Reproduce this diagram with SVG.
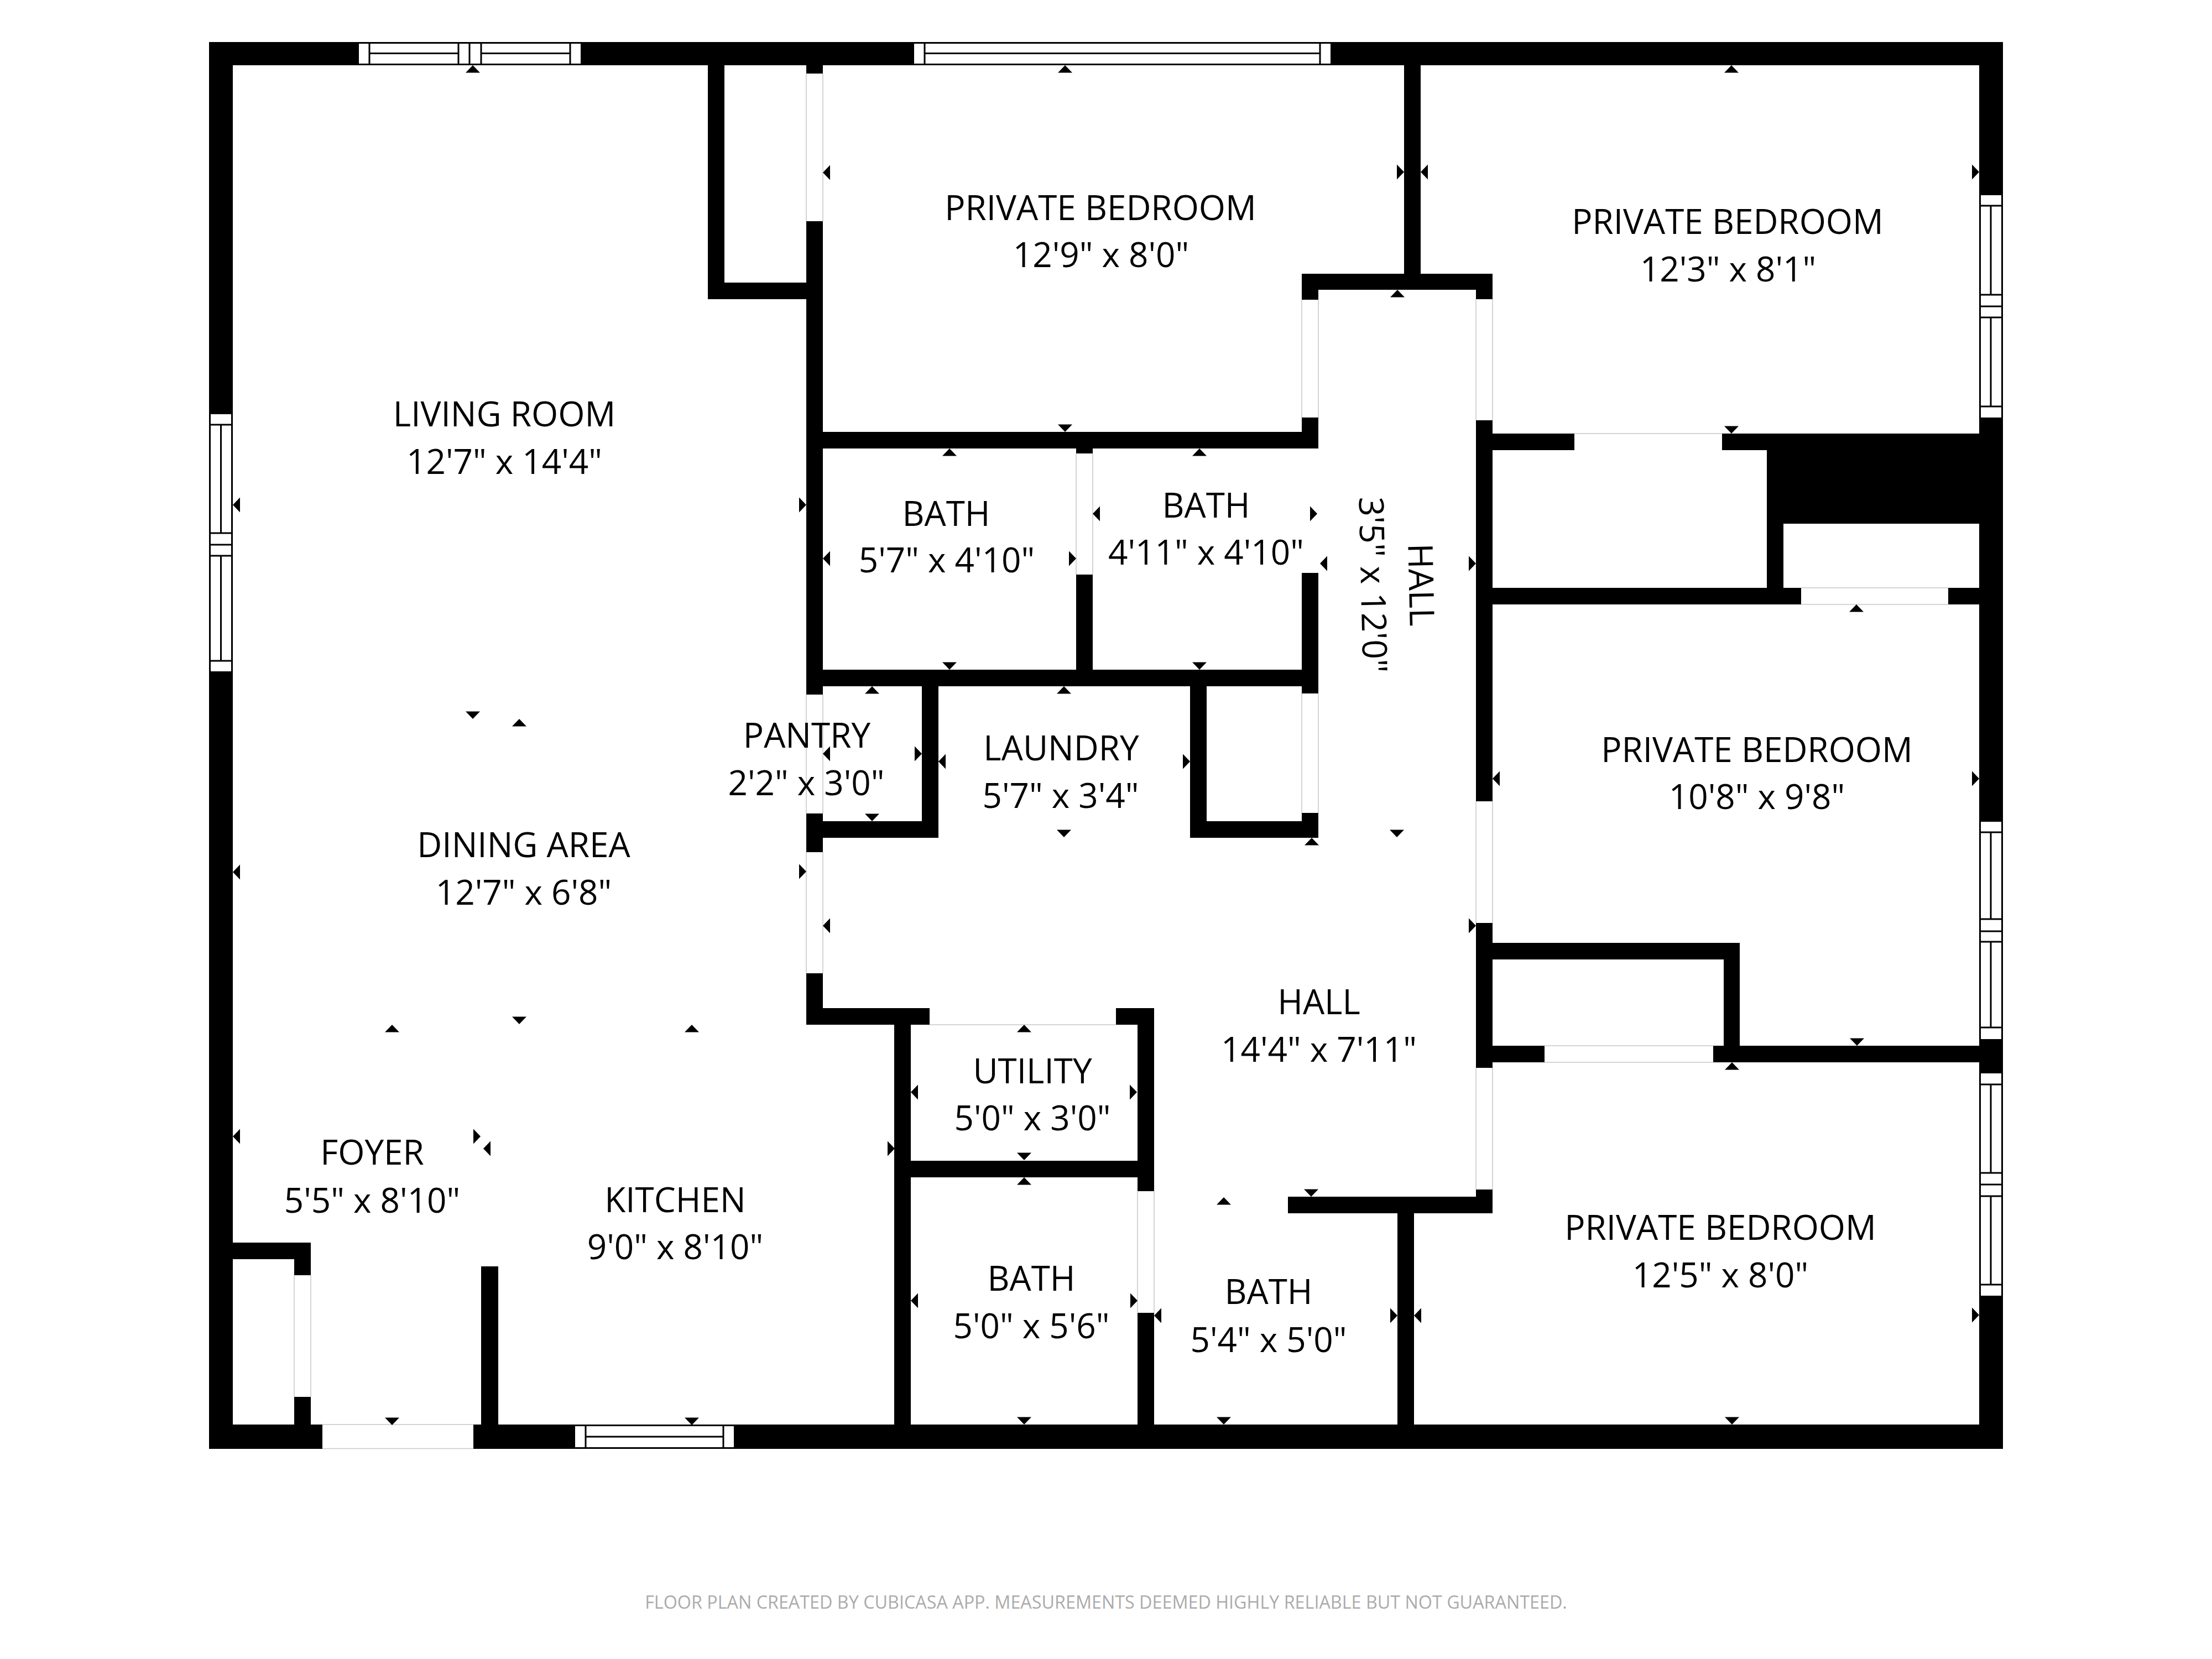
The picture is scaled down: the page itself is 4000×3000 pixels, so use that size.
<svg xmlns="http://www.w3.org/2000/svg" width="4000" height="3000" viewBox="0 0 4000 3000">
<defs>
<style>
text{font-family:"Open Sans","Noto Sans","Liberation Sans",sans-serif;font-size:62px;fill:#000;text-anchor:middle}
.foot{font-size:32.3px;fill:#ababab}
.w{fill:#000}
.d{fill:#fff}
.l{stroke:#c8c8c8;stroke-width:1.5;fill:none}
.win{fill:#fff}
.wl{stroke:#000;stroke-width:3;fill:none}
.a{fill:#000}
</style>
<polygon id="u" points="-13,13.5 13,13.5 0,0"/>
<polygon id="n" points="-13,-13.5 13,-13.5 0,0"/>
<polygon id="lf" points="13,-13.5 13,13.5 0,0"/>
<polygon id="rt" points="-13,-13.5 -13,13.5 0,0"/>
</defs>
<rect width="4000" height="3000" fill="#fff"/>
<g id="walls" class="w">
<rect x="378" y="76" width="3244" height="42"/>
<rect x="378" y="2576" width="3244" height="44"/>
<rect x="378" y="76" width="43" height="2544"/>
<rect x="3579" y="76" width="43" height="2544"/>
<rect x="1280" y="118" width="30" height="423"/>
<rect x="1280" y="511" width="208" height="30"/>
<rect x="1458" y="118" width="30" height="1735"/>
<rect x="1458" y="781" width="926" height="30"/>
<rect x="2539" y="118" width="30" height="377"/>
<rect x="2354" y="495" width="345" height="29"/>
<rect x="2354" y="495" width="30" height="316"/>
<rect x="2669" y="495" width="30" height="1699"/>
<rect x="2699" y="784" width="880" height="30"/>
<rect x="3195" y="784" width="384" height="163"/>
<rect x="3195" y="784" width="30" height="309"/>
<rect x="2669" y="1063" width="953" height="30"/>
<rect x="1946" y="811" width="30" height="400"/>
<rect x="1458" y="1211" width="926" height="30"/>
<rect x="2354" y="1036" width="30" height="479"/>
<rect x="2152" y="1241" width="30" height="274"/>
<rect x="2152" y="1485" width="232" height="30"/>
<rect x="1667" y="1241" width="30" height="274"/>
<rect x="1458" y="1485" width="239" height="30"/>
<rect x="1458" y="1823" width="223" height="30"/>
<rect x="1617" y="1823" width="30" height="753"/>
<rect x="2018" y="1823" width="69" height="30"/>
<rect x="2057" y="1823" width="30" height="753"/>
<rect x="1617" y="2099" width="470" height="30"/>
<rect x="2699" y="1705" width="447" height="30"/>
<rect x="3117" y="1705" width="29" height="216"/>
<rect x="2669" y="1891" width="953" height="30"/>
<rect x="2329" y="2164" width="370" height="30"/>
<rect x="2527" y="2194" width="30" height="382"/>
<rect x="378" y="2247" width="184" height="30"/>
<rect x="532" y="2247" width="30" height="329"/>
<rect x="870" y="2290" width="31" height="286"/>
</g>
<g id="doors">
<rect class="d" x="1458" y="133" width="30" height="267"/>
<rect class="d" x="2354" y="542" width="30" height="213"/>
<rect class="d" x="2669" y="541" width="30" height="219"/>
<rect class="d" x="2847" y="784" width="267" height="30"/>
<rect class="d" x="3257" y="1063" width="266" height="30"/>
<rect class="d" x="1946" y="820" width="30" height="219"/>
<rect class="d" x="2354" y="1254" width="30" height="216"/>
<rect class="d" x="1458" y="1256" width="30" height="215"/>
<rect class="d" x="1458" y="1541" width="30" height="219"/>
<rect class="d" x="2669" y="1449" width="30" height="220"/>
<rect class="d" x="2669" y="1931" width="30" height="220"/>
<rect class="d" x="2793" y="1891" width="305" height="30"/>
<rect class="d" x="2057" y="2154" width="30" height="220"/>
<rect class="d" x="532" y="2306" width="30" height="220"/>
<rect class="d" x="583" y="2575" width="273" height="45"/>
<rect class="d" x="1681" y="1823" width="337" height="30"/>
<path class="l" d="M1458 133V400M1488 133V400M2354 542V755M2384 542V755M2669 541V760M2699 541V760M2847 784H3114M3257 1063H3523M3257 1093H3523M1946 820V1039M1976 820V1039M2354 1254V1470M2384 1254V1470M1458 1256V1471M1488 1256V1471M1458 1541V1760M1488 1541V1760M2669 1449V1669M2699 1449V1669M2669 1931V2151M2699 1931V2151M2793 1891H3098M2793 1921H3098M2057 2154V2374M2087 2154V2374M532 2306V2526M562 2306V2526M583 2576H856M583 2619.5H856M1681 1853H2018"/>
</g>
<g id="windows">
<rect class="win" x="649" y="76" width="401" height="42"/>
<path class="wl" d="M649 77.5H1050M649 116.5H1050M668 77V117M829 77V117M849 77V117M870 77V117M1031 77V117M668 96.5H829M870 96.5H1031"/>
<rect class="win" x="1653" y="76" width="753" height="42"/>
<path class="wl" d="M1653 77.5H2406M1653 116.5H2406M1672 77V117M2387 77V117M1672 96.5H2387"/>
<rect class="win" x="378" y="749" width="43" height="465"/>
<path class="wl" d="M379.5 749V1214M419.5 749V1214M380 768H419M380 964H419M380 985H419M380 1005H419M380 1195H419M399.5 768V964M399.5 1005V1195"/>
<rect class="win" x="3579" y="353" width="43" height="402"/>
<path class="wl" d="M3580.5 353V755M3620.5 353V755M3581 372H3620M3581 533H3620M3581 554H3620M3581 574H3620M3581 735H3620M3600 372V533M3600 574V735"/>
<rect class="win" x="3579" y="1486" width="43" height="393"/>
<path class="wl" d="M3580.5 1486V1879M3620.5 1486V1879M3581 1505H3620M3581 1662H3620M3581 1684H3620M3581 1703H3620M3581 1858H3620M3600 1505V1662M3600 1703V1858"/>
<rect class="win" x="3579" y="1941" width="43" height="402"/>
<path class="wl" d="M3580.5 1941V2343M3620.5 1941V2343M3581 1961H3620M3581 2121H3620M3581 2142H3620M3581 2163H3620M3581 2323H3620M3600 1961V2121M3600 2163V2323"/>
<rect class="win" x="1040" y="2576" width="287" height="44"/>
<path class="wl" d="M1040 2577.5H1327M1040 2618.5H1327M1059 2578V2618M1308 2578V2618M1059 2598H1308"/>
</g>
<g id="markers" class="a">
<use href="#u" x="855" y="118"/><use href="#u" x="1926" y="118"/><use href="#u" x="3131" y="118"/>
<use href="#u" x="2527" y="524"/><use href="#u" x="1717" y="811"/><use href="#u" x="2169" y="811"/>
<use href="#u" x="3357" y="1093"/><use href="#u" x="1577" y="1241"/><use href="#u" x="1924" y="1241"/>
<use href="#u" x="2372" y="1515"/><use href="#u" x="939" y="1300"/><use href="#u" x="709" y="1853"/>
<use href="#u" x="1251" y="1853"/><use href="#u" x="1852" y="1853"/><use href="#u" x="1852" y="2129"/>
<use href="#u" x="2213" y="2165"/><use href="#u" x="3132" y="1921"/>
<use href="#n" x="1926" y="781"/><use href="#n" x="3131" y="784"/><use href="#n" x="1717" y="1211"/>
<use href="#n" x="2169" y="1211"/><use href="#n" x="1577" y="1485"/><use href="#n" x="1924" y="1514"/>
<use href="#n" x="2526" y="1514"/><use href="#n" x="855" y="1300"/><use href="#n" x="939" y="1852"/>
<use href="#n" x="709" y="2577"/><use href="#n" x="1251" y="2577"/><use href="#n" x="1852" y="2098"/>
<use href="#n" x="1852" y="2576"/><use href="#n" x="2213" y="2576"/><use href="#n" x="2371" y="2164"/>
<use href="#n" x="3358" y="1891"/><use href="#n" x="3132" y="2576"/>
<use href="#lf" x="421" y="913"/><use href="#lf" x="1488" y="312"/><use href="#lf" x="2569" y="311"/>
<use href="#lf" x="1488" y="1010"/><use href="#lf" x="1976" y="929"/><use href="#lf" x="2387" y="1019"/>
<use href="#lf" x="1488" y="1363"/><use href="#lf" x="1697" y="1377"/><use href="#lf" x="2699" y="1408"/>
<use href="#lf" x="421" y="1577"/><use href="#lf" x="1488" y="1674"/><use href="#lf" x="421" y="2055"/>
<use href="#lf" x="874" y="2077"/><use href="#lf" x="1647" y="1975"/><use href="#lf" x="1647" y="2352"/>
<use href="#lf" x="2087" y="2379"/><use href="#lf" x="2557" y="2379"/>
<use href="#rt" x="1458" y="913"/><use href="#rt" x="2539" y="311"/><use href="#rt" x="3579" y="311"/>
<use href="#rt" x="1946" y="1010"/><use href="#rt" x="2382" y="929"/><use href="#rt" x="2669" y="1019"/>
<use href="#rt" x="1667" y="1363"/><use href="#rt" x="2152" y="1377"/><use href="#rt" x="3579" y="1408"/>
<use href="#rt" x="1458" y="1576"/><use href="#rt" x="2669" y="1674"/><use href="#rt" x="869" y="2055"/>
<use href="#rt" x="1618" y="2077"/><use href="#rt" x="2056" y="1975"/><use href="#rt" x="2057" y="2352"/>
<use href="#rt" x="2527" y="2379"/><use href="#rt" x="3579" y="2378"/>
</g>
<g id="room-living"><text x="912" y="771">LIVING ROOM</text><text x="912" y="857">12'7" x 14'4"</text></g>
<g id="room-dining"><text x="947" y="1550">DINING AREA</text><text x="947" y="1636">12'7" x 6'8"</text></g>
<g id="room-bed1"><text x="1990" y="398">PRIVATE BEDROOM</text><text x="1991" y="483">12'9" x 8'0"</text></g>
<g id="room-bed2"><text x="3124" y="423">PRIVATE BEDROOM</text><text x="3125" y="509">12'3" x 8'1"</text></g>
<g id="room-bath1"><text x="1711" y="951">BATH</text><text x="1712" y="1035">5'7" x 4'10"</text></g>
<g id="room-bath2"><text x="2181" y="936">BATH</text><text x="2181" y="1021">4'11" x 4'10"</text></g>
<g id="room-hall2"><text transform="translate(2548 1058) rotate(88.7)">HALL</text><text transform="translate(2461 1058) rotate(88.7)">3'5" x 12'0"</text></g>
<g id="room-pantry"><text x="1459" y="1352">PANTRY</text><text x="1458" y="1438">2'2" x 3'0"</text></g>
<g id="room-laundry"><text x="1919" y="1375">LAUNDRY</text><text x="1918" y="1461">5'7" x 3'4"</text></g>
<g id="room-bed3"><text x="3177" y="1378">PRIVATE BEDROOM</text><text x="3177" y="1463">10'8" x 9'8"</text></g>
<g id="room-hall"><text x="2385" y="1834">HALL</text><text x="2385" y="1920">14'4" x 7'11"</text></g>
<g id="room-utility"><text x="1867" y="1959">UTILITY</text><text x="1867" y="2044">5'0" x 3'0"</text></g>
<g id="room-foyer"><text x="673" y="2106">FOYER</text><text x="673" y="2193">5'5" x 8'10"</text></g>
<g id="room-kitchen"><text x="1221" y="2192">KITCHEN</text><text x="1221" y="2277">9'0" x 8'10"</text></g>
<g id="room-bath3"><text x="1865" y="2334">BATH</text><text x="1865" y="2420">5'0" x 5'6"</text></g>
<g id="room-bath4"><text x="2294" y="2358">BATH</text><text x="2294" y="2445">5'4" x 5'0"</text></g>
<g id="room-bed4"><text x="3111" y="2242">PRIVATE BEDROOM</text><text x="3111" y="2328">12'5" x 8'0"</text></g>
<text class="foot" x="2000" y="2909">FLOOR PLAN CREATED BY CUBICASA APP. MEASUREMENTS DEEMED HIGHLY RELIABLE BUT NOT GUARANTEED.</text>
</svg>
